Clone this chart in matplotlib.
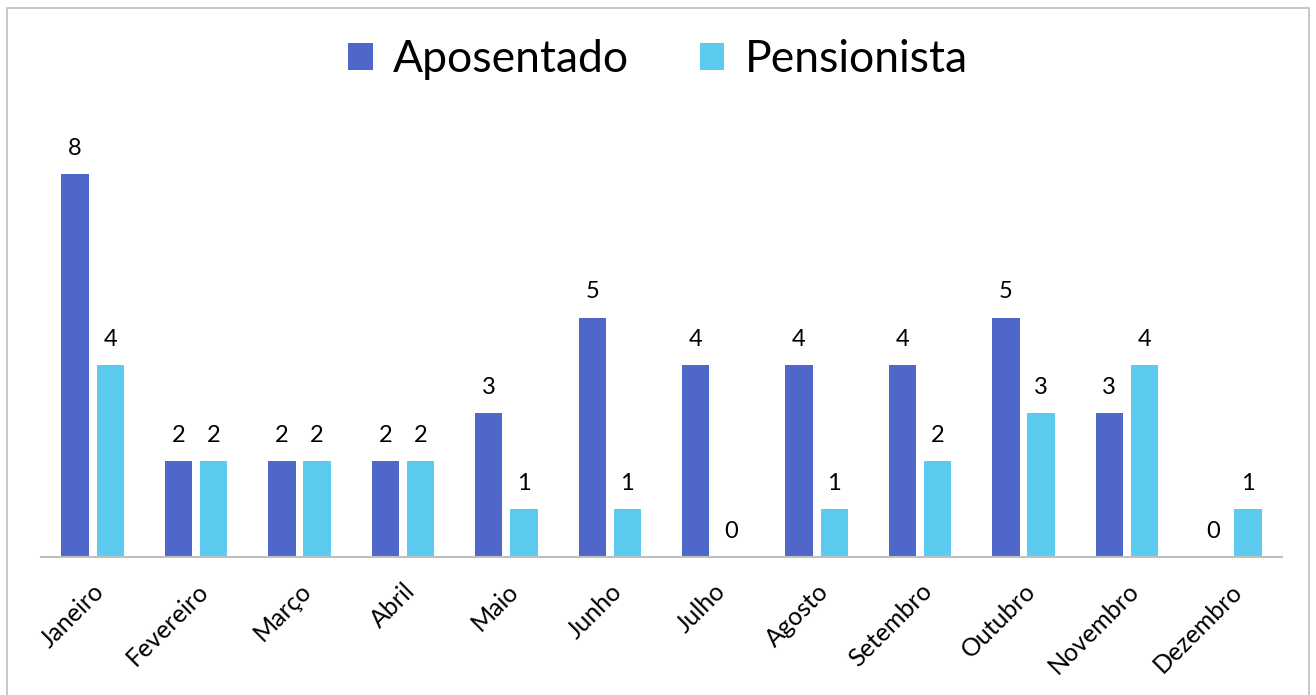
import numpy as np
import matplotlib.pyplot as plt
from matplotlib.patches import Rectangle

### Data
meses = ["Janeiro", "Fevereiro", "Março", "Abril", "Maio", "Junho",
         "Julho", "Agosto", "Setembro", "Outubro", "Novembro", "Dezembro"]
aposentado = [8, 2, 2, 2, 3, 5, 4, 4, 4, 5, 3, 0]
pensionista = [4, 2, 2, 2, 1, 1, 0, 1, 2, 3, 4, 1]

plt.rcParams['font.family'] = ['Lato', 'DejaVu Sans']

fig = plt.figure(figsize=(13.16, 6.95), dpi=100)
ax = fig.add_axes([41/1316, 1 - 557/695, (1282 - 41)/1316, (557 - 126)/695])

x = np.arange(len(meses))
w = 0.265
off = 0.17
b1 = ax.bar(x - off, aposentado, w, color="#4F67C8", label="Aposentado")
b2 = ax.bar(x + off, pensionista, w, color="#5BCBF0", label="Pensionista")

### Value labels
for bars, vals in [(b1, aposentado), (b2, pensionista)]:
    for r, v in zip(bars, vals):
        ax.annotate(str(v), (r.get_x() + r.get_width()/2, v),
                    xytext=(0, 11), textcoords="offset points",
                    ha="center", va="bottom", fontsize=17)

### Decorate
ax.set_xlim(-0.5, len(meses) - 0.5)
ax.set_ylim(0, 9)
ax.set_xticks(x)
ax.set_xticklabels(meses, rotation=45, ha="right", rotation_mode="anchor", fontsize=18)
ax.tick_params(axis="x", length=0, pad=16)
ax.set_yticks([])
for s in ["top", "right", "left"]:
    ax.spines[s].set_visible(False)
ax.spines["bottom"].set_color("#BFBFBF")
ax.spines["bottom"].set_linewidth(1.5)

fig.legend(loc="center", bbox_to_anchor=(0.5, 1 - 60/695), ncol=2, frameon=False,
           fontsize=32, handlelength=0.55, handleheight=0.55, handletextpad=0.45,
           columnspacing=1.6)

### Border
fig.patches.append(Rectangle((7/1316, -0.01), 1302/1316, 1 - 8/695 + 0.01,
                             transform=fig.transFigure, fill=False,
                             edgecolor="#BFBFBF", linewidth=1.2))

fig.savefig("out.png", dpi=100)
